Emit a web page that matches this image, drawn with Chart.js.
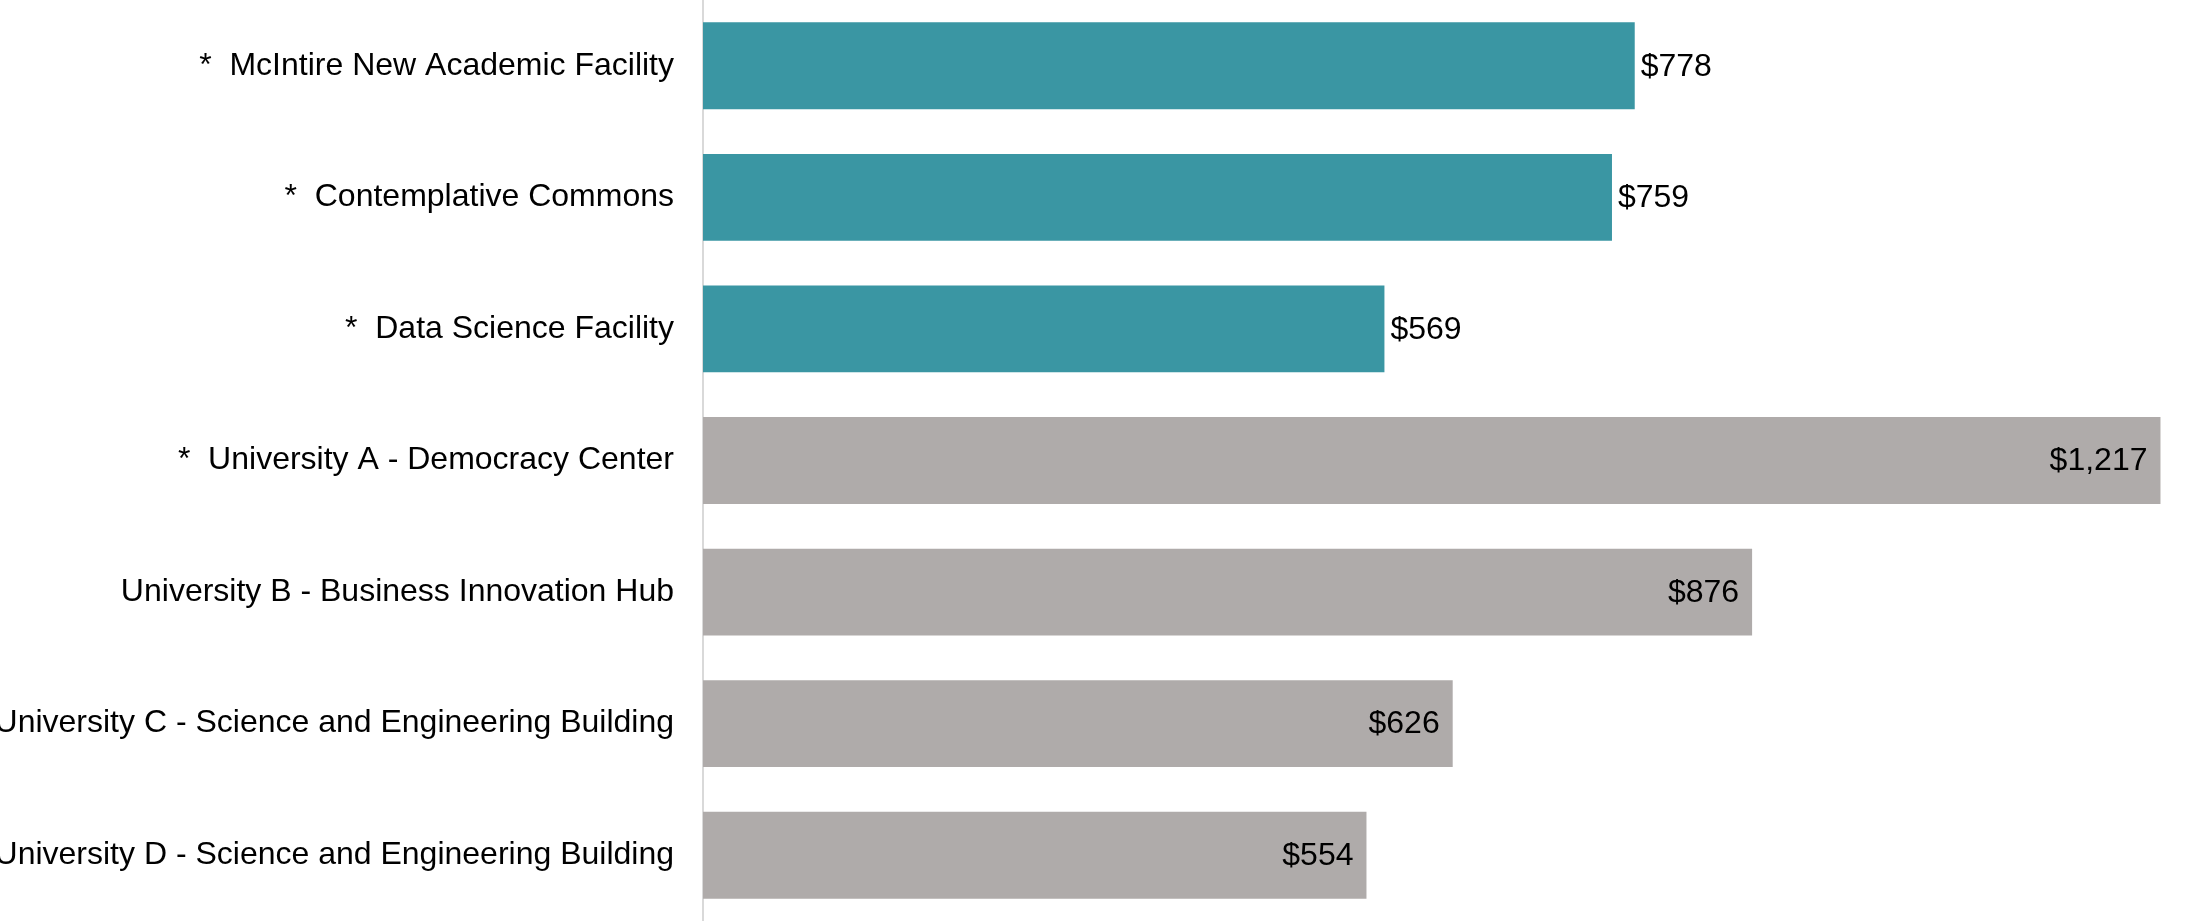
<!DOCTYPE html>
<html>
<head>
<meta charset="utf-8">
<script src="https://cdn.jsdelivr.net/npm/chart.js@4"></script>
<style>
  html, body { margin: 0; padding: 0; background: #fff; }
  #wrap { width: 2200px; height: 921px; position: relative; }
</style>
</head>
<body>
<div id="wrap"><canvas id="costChart"></canvas></div>
<script>
// cost per square foot by project
const categories = [
    '*  McIntire New Academic Facility',
    '*  Contemplative Commons',
    '*  Data Science Facility',
    '*  University A - Democracy Center',
    'University B - Business Innovation Hub',
    'University C - Science and Engineering Building',
    'University D - Science and Engineering Building'
];
const costValues = [778, 759, 569, 1217, 876, 626, 554];
const isOwnProject = [true, true, true, false, false, false, false];

const TEAL = 'rgb(58, 150, 163)';
const GREY = 'rgb(175, 171, 170)';
const FONT = '"Liberation Sans", Arial, sans-serif';

// draws the $ labels at the end of each bar
const valueLabels = {
    id: 'valueLabels',
    afterDatasetsDraw(chart) {
        const ctx = chart.ctx;
        const meta = chart.getDatasetMeta(0);
        ctx.save();
        ctx.font = '32px ' + FONT;
        ctx.fillStyle = '#000';
        ctx.textBaseline = 'middle';
        meta.data.forEach((bar, i) => {
            const txt = '$' + costValues[i].toLocaleString('en-US');
            if (isOwnProject[i]) {
                ctx.textAlign = 'left';
                ctx.fillText(txt, bar.x + 6, bar.y + 1);
            } else {
                ctx.textAlign = 'right';
                ctx.fillText(txt, bar.x - 13, bar.y + 1);
            }
        });
        ctx.restore();
    }
};

const ctx = document.getElementById('costChart').getContext('2d');
new Chart(ctx, {
    type: 'bar',
    data: {
        labels: categories,
        datasets: [{
            data: costValues,
            backgroundColor: isOwnProject.map(f => f ? TEAL : GREY),
            categoryPercentage: 1,
            barPercentage: 0.66
        }]
    },
    options: {
        indexAxis: 'y',
        responsive: true,
        maintainAspectRatio: false,
        animation: false,
        layout: { padding: 0 },
        plugins: {
            legend: { display: false },
            tooltip: { enabled: false }
        },
        scales: {
            x: {
                display: false,
                min: 0,
                max: 1250
            },
            y: {
                grid: { display: false, drawTicks: false },
                border: { display: true, color: '#d9d9d9', width: 2 },
                ticks: {
                    color: '#000',
                    padding: 29,
                    font: { family: FONT, size: 32 }
                },
                afterFit(scale) {
                    scale.width = 703;
                    // no extra room above/below the category band
                    scale.paddingTop = 0;
                    scale.paddingBottom = 0;
                }
            }
        }
    },
    plugins: [valueLabels]
});
</script>
</body>
</html>
